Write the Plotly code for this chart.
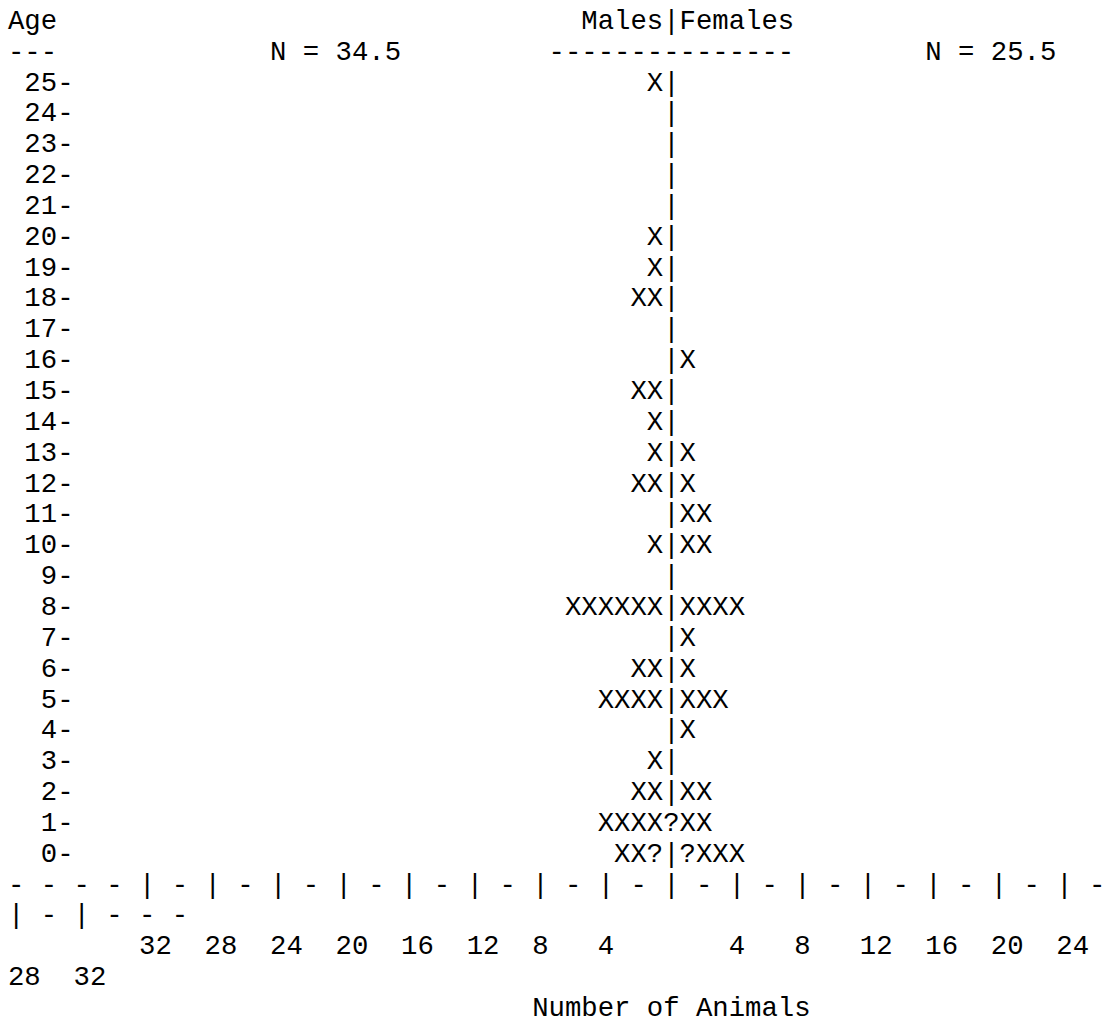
import plotly.graph_objects as go

# ---------------- data ----------------
ages = list(range(25, -1, -1))
males = [1, 0, 0, 0, 0, 1, 1, 2, 0, 0, 2, 1, 1, 2, 0, 1, 0, 6, 0, 2, 4, 0, 1, 2, 4, 2]
females = [0, 0, 0, 0, 0, 0, 0, 0, 0, 1, 0, 0, 1, 1, 2, 2, 0, 4, 1, 1, 3, 1, 0, 2, 2, 3]
male_half_ages = [0]        # drawn as '?' next to the divider
female_half_ages = [0]
uncertain_ages = [1]        # divider itself drawn as '?'
n_males = 34.5
n_females = 25.5
tick_values = [4, 8, 12, 16, 20, 24, 28, 32]
left_title = "Males"
right_title = "Females"
y_title = "Age"
x_title = "Number of Animals"

# ---------------- layout constants ----------------
FONT = "Courier, 'Nimbus Mono PS', 'Nimbus Mono L', FreeMono, 'Courier New', 'Liberation Mono', monospace"
FONT_SIZE = 27.3
CHAR_W = 16.38
LINE_H = 30.85
FIG_W, FIG_H = 1108, 1025
LEFT_PAD, TOP_Y = 8, 22   # pixel offset of first column / centre of first line
DIV_COL = 40          # column of the divider
LINE_COLS = 67        # characters that fit on one visual line
MAX_AGE = max(ages)
AXIS_MAX = max(tick_values)

x_lo = -(DIV_COL + 0.5) - LEFT_PAD / CHAR_W
x_hi = x_lo + FIG_W / CHAR_W
y_hi = (MAX_AGE + 2) + TOP_Y / LINE_H
y_lo = y_hi - FIG_H / LINE_H


def chars(text, col0, line_y, xs, ys, ts):
    for i, ch in enumerate(text):
        if ch != " ":
            xs.append(col0 + i - DIV_COL)
            ys.append(line_y)
            ts.append(ch)


def wrapped(text, line_y, xs, ys, ts):
    chars(text[:LINE_COLS], 0, line_y, xs, ys, ts)
    rest_start = LINE_COLS
    while rest_start < len(text) and text[rest_start] == " ":
        rest_start += 1
    chars(text[rest_start:], 0, line_y - 1, xs, ys, ts)


fig = go.Figure()
tf = dict(family=FONT, size=FONT_SIZE, color="#000000")

# male / female X marks
mx, my, mt = [], [], []
fx, fy, ft = [], [], []
dx, dy, dt = [], [], []
for a, m, f in zip(ages, males, females):
    mh = 1 if a in male_half_ages else 0
    fh = 1 if a in female_half_ages else 0
    if mh:
        mx.append(-1); my.append(a); mt.append("?")
    for k in range(1, m + 1):
        mx.append(-(k + mh)); my.append(a); mt.append("X")
    if fh:
        fx.append(1); fy.append(a); ft.append("?")
    for k in range(1, f + 1):
        fx.append(k + fh); fy.append(a); ft.append("X")
    dx.append(0); dy.append(a); dt.append("?" if a in uncertain_ages else "|")

for xs, ys, ts, name in [(mx, my, mt, "Males"), (fx, fy, ft, "Females"), (dx, dy, dt, "divider")]:
    fig.add_trace(go.Scatter(x=xs, y=ys, text=ts, mode="text", textposition="middle center",
                             textfont=tf, hoverinfo="skip", showlegend=False, cliponaxis=False,
                             name=name))

# labels / axis text
lx, ly, lt = [], [], []
head_y = MAX_AGE + 2
chars(y_title, 0, head_y, lx, ly, lt)
title = left_title + "|" + right_title
chars(title, DIV_COL - len(left_title), head_y, lx, ly, lt)
chars("-" * len(y_title), 0, head_y - 1, lx, ly, lt)
chars(f"N = {n_males}", DIV_COL - 24, head_y - 1, lx, ly, lt)
chars("-" * (len(title) + 2), DIV_COL - len(left_title) - 2, head_y - 1, lx, ly, lt)
chars(f"N = {n_females}", DIV_COL + 16, head_y - 1, lx, ly, lt)

for a in ages:
    chars(f"{a:>3}-", 0, a, lx, ly, lt)

# bottom axis line
axis_len = DIV_COL + AXIS_MAX + 7
axis_line = ""
for c in range(axis_len):
    v = c - DIV_COL
    if v % 4 == 0 and abs(v) <= AXIS_MAX:
        axis_line += "|"
    elif c % 2 == 0:
        axis_line += "-"
    else:
        axis_line += " "
wrapped(axis_line, -1, lx, ly, lt)

num_line = [" "] * (DIV_COL + AXIS_MAX + 2)
for v in tick_values:
    for i, ch in enumerate(str(v)):
        num_line[DIV_COL - v + i] = ch
        num_line[DIV_COL + v + i] = ch
wrapped("".join(num_line).rstrip(), -3, lx, ly, lt)

chars(x_title, DIV_COL - len(x_title) // 2, -5, lx, ly, lt)

fig.add_trace(go.Scatter(x=lx, y=ly, text=lt, mode="text", textposition="middle center",
                         textfont=tf, hoverinfo="skip", showlegend=False, cliponaxis=False))

fig.update_layout(
    width=FIG_W, height=FIG_H, autosize=False,
    margin=dict(l=0, r=0, t=0, b=0, pad=0),
    paper_bgcolor="white", plot_bgcolor="white",
    xaxis=dict(range=[x_lo, x_hi], visible=False, fixedrange=True),
    yaxis=dict(range=[y_lo, y_hi], visible=False, fixedrange=True),
    showlegend=False,
)

fig.write_html("out.html", config={"displayModeBar": False},
               post_script="document.body.style.margin='0';document.body.style.overflow='hidden';")
